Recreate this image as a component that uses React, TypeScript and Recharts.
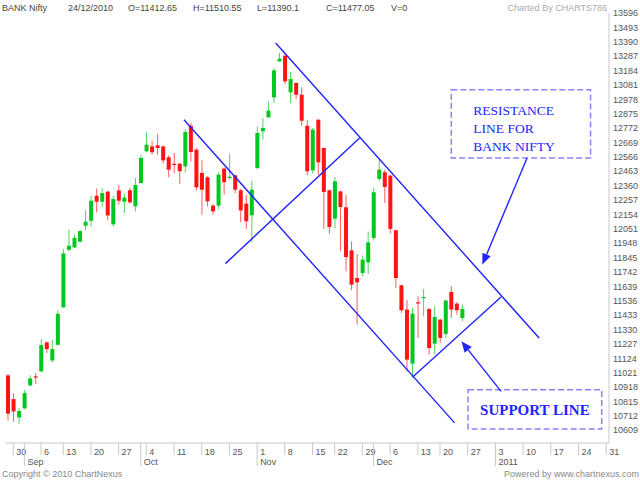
import React from 'react';
import { ComposedChart, Bar, XAxis, YAxis, ReferenceLine, ReferenceArea } from 'recharts';

// Trading days (NSE), Aug 27 – Dec 24 2010
const aug2010 = [27, 30, 31];
const sep2010 = [1, 2, 3, 6, 7, 8, 9, 13, 14, 15, 16, 17, 20, 21, 22, 23, 24, 27, 28, 29, 30];
const oct2010 = [1, 4, 5, 6, 7, 8, 11, 12, 13, 14, 15, 18, 19, 20, 21, 22, 25, 26, 27, 28, 29];
const nov2010 = [1, 2, 3, 4, 5, 8, 9, 10, 11, 12, 15, 16, 18, 19, 22, 23, 24, 25, 26, 29, 30];
const dec2010 = [1, 2, 3, 6, 7, 8, 9, 10, 13, 14, 15, 16, 20, 21, 22, 23, 24];
// Empty future sessions shown on the axis
const decFuture = [27, 28, 29, 30, 31];
const jan2011 = [3, 4, 5, 6, 7, 10, 11, 12, 13, 14, 17, 18, 19, 20, 21, 24, 25, 26, 27, 28, 31];

const opens = [11002, 10832, 10701, 10766, 10930, 10995, 11031, 11238, 11109, 11221,
  11489, 11901, 11918, 11959, 12073, 12109, 12288, 12245, 12317, 12083,
  12326, 12245, 12327, 12212, 12379, 12606, 12641, 12649, 12641, 12563,
  12517, 12517, 12498, 12789, 12618, 12451, 12420, 12217, 12217, 12482,
  12418, 12434, 12327, 12231, 12148, 12486, 12749, 12849, 12992, 13250,
  13290, 13028, 13095, 13011, 12789, 12470, 12832, 12630, 12327, 12124,
  12319, 12205, 11897, 11699, 11735, 11811, 11986, 12408, 12456, 12432,
  12041, 11647, 11473, 11086, 11525, 11558, 11477, 11229, 11401, 11299,
  11599, 11516, 11412.65];
const highs = [11010, 10871, 10768, 10899, 11004, 11019, 11262, 11245, 11257, 11467,
  11906, 12045, 12009, 12040, 12183, 12288, 12338, 12343, 12324, 12288,
  12367, 12302, 12343, 12415, 12582, 12742, 12682, 12730, 12646, 12577,
  12594, 12522, 12766, 12808, 12630, 12541, 12427, 12229, 12455, 12491,
  12587, 12439, 12338, 12295, 12396, 12785, 12844, 12964, 13202, 13310,
  13305, 13174, 13100, 13064, 12832, 12773, 12836, 12634, 12331, 12422,
  12324, 12295, 11961, 11871, 11861, 12033, 12344, 12551, 12475, 12436,
  12045, 11651, 11540, 11485, 11568, 11621, 11485, 11497, 11406, 11544,
  11640, 11525, 11510.55];
const lows = [10680, 10670, 10656, 10760, 10923, 10940, 11025, 11162, 11097, 11215,
  11485, 11890, 11912, 11955, 12040, 12068, 12169, 12207, 12111, 12068,
  12224, 12164, 12231, 12176, 12374, 12599, 12582, 12582, 12517, 12420,
  12451, 12372, 12455, 12534, 12327, 12152, 12212, 12152, 12193, 12295,
  12403, 12307, 12097, 12050, 11954, 12480, 12689, 12845, 12952, 13245,
  13088, 12952, 12980, 12789, 12434, 12446, 12434, 12052, 12016, 12057,
  11895, 11747, 11611, 11365, 11711, 11728, 11969, 12391, 12236, 12017,
  11628, 11449, 11031, 10984, 11270, 11425, 11151, 11151, 11234, 11270,
  11413, 11437, 11390.1];
const closes = [10728, 10744, 10747, 10875, 10980, 10988, 11219, 11190, 11190, 11443,
  11875, 11930, 11985, 12035, 12102, 12252, 12245, 12307, 12147, 12264,
  12252, 12274, 12241, 12365, 12558, 12653, 12599, 12630, 12541, 12474,
  12510, 12463, 12744, 12601, 12348, 12331, 12248, 12176, 12439, 12384,
  12424, 12331, 12183, 12105, 12331, 12737, 12773, 12897, 13185, 13269,
  13107, 13123, 13011, 12825, 12463, 12761, 12527, 12315, 12064, 12391,
  12207, 11849, 11651, 11668, 11830, 11954, 12313, 12475, 12351, 12050,
  11699, 11468, 11115, 11444, 11518, 11563, 11198, 11420, 11270, 11537,
  11473, 11468, 11477.05];

const priceTicks = [13596, 13493, 13390, 13287, 13184, 13081, 12978, 12875, 12772, 12669,
  12566, 12463, 12360, 12257, 12154, 12051, 11948, 11845, 11742, 11639,
  11536, 11433, 11330, 11227, 11124, 11021, 10918, 10815, 10712, 10609];
const priceDomain = [10518, 13596];
const monthNames = ['Jan', 'Feb', 'Mar', 'Apr', 'May', 'Jun', 'Jul', 'Aug', 'Sep', 'Oct', 'Nov', 'Dec'];

// Trend lines in (session index, price)
const resistanceLine = [{ x: 48.4, y: 13381 }, { x: 95.5, y: 11270 }];
const channelLowLine = [{ x: 32.0, y: 12832 }, { x: 80.4, y: 10662 }];
const crossLine = [{ x: 39.4, y: 11802 }, { x: 63.4, y: 12701 }];
const supportLine = [{ x: 72.9, y: 10991 }, { x: 88.7, y: 11563 }];
const resistanceArrow = [{ x: 93.35, y: 12558 }, { x: 85.35, y: 11795 }];
const supportArrow = [{ x: 88.7, y: 10888 }, { x: 81.6, y: 11246 }];
const resistanceBox = { x1: 79.8, x2: 104.7, y1: 12558, y2: 13047 };
const supportBox = { x1: 82.8, x2: 106.7, y1: 10619, y2: 10900 };
const resistanceText = ['RESISTANCE', 'LINE FOR', 'BANK NIFTY'];
const supportText = ['SUPPORT LINE'];

const pad = (n: number) => String(n).padStart(2, '0');
const mk = (y: number, m: number, days: number[]) => days.map((d) => `${y}-${pad(m)}-${pad(d)}`);
const tradedDates = [
  ...mk(2010, 8, aug2010), ...mk(2010, 9, sep2010), ...mk(2010, 10, oct2010),
  ...mk(2010, 11, nov2010), ...mk(2010, 12, dec2010),
];
const futureDates = [...mk(2010, 12, decFuture), ...mk(2011, 1, jan2011)];
const allDates = tradedDates.concat(futureDates);

const data = allDates.map((date, i) =>
  i < opens.length
    ? { date, o: opens[i], h: highs[i], l: lows[i], c: closes[i], range: [lows[i], highs[i]] }
    : { date }
);

const mondaySet = new Set(allDates.filter((d) => new Date(d + 'T12:00:00').getDay() === 1));
const monthSet = new Set(allDates.filter((d, i) => i > 0 && d.slice(0, 7) !== allDates[i - 1].slice(0, 7)));
const axisTicks = allDates.filter((d) => mondaySet.has(d) || monthSet.has(d));

const BLUE = '#2323ff';
const GRID = '#c8c8c8';
const TXT = '#555';

const DateTick = (props: any) => {
  const { x, y, payload } = props;
  const d: string = payload.value;
  const isMon = mondaySet.has(d);
  const isMonth = monthSet.has(d);
  const m = parseInt(d.slice(5, 7), 10);
  const monthLabel = m === 1 ? d.slice(0, 4) : monthNames[m - 1];
  return (
    <g>
      <line x1={x} x2={x} y1={y} y2={y + (isMonth ? 23 : 12)} stroke={GRID} strokeWidth={1} />
      {isMon && (
        <text x={x + 3} y={y + 12} fontSize={9} fill={TXT}>{parseInt(d.slice(8), 10)}</text>
      )}
      {isMonth && (
        <text x={x + 3} y={y + 22} fontSize={9} fill={TXT}>{monthLabel}</text>
      )}
    </g>
  );
};

const Candle = (props: any) => {
  const { x, y, width, height, payload } = props;
  if (!payload || payload.o === undefined) return null;
  const { o, h, l, c } = payload;
  const top = Math.min(y, y + height);
  const bot = Math.max(y, y + height);
  const span = h - l;
  const k = span > 0 ? (bot - top) / span : 0;
  const py = (v: number) => top + (h - v) * k;
  const up = c >= o;
  const body = up ? '#00c81e' : '#ff1414';
  const wick = up ? '#4ed65e' : '#ff5c5c';
  const cx = x + width / 2;
  const bTop = py(Math.max(o, c));
  const bBot = py(Math.min(o, c));
  return (
    <g>
      <line x1={cx} x2={cx} y1={top} y2={bot} stroke={wick} strokeWidth={1} />
      <rect x={x} y={bTop} width={width} height={Math.max(1.2, bBot - bTop)} fill={body} />
    </g>
  );
};

const arrowShape = (p: any) => {
  const { x1, y1, x2, y2 } = p;
  const ang = Math.atan2(y2 - y1, x2 - x1);
  const len = 11;
  const half = 4.5;
  const bx = x2 - len * Math.cos(ang);
  const by = y2 - len * Math.sin(ang);
  const nx = -Math.sin(ang);
  const ny = Math.cos(ang);
  const pts = `${x2},${y2} ${bx + nx * half},${by + ny * half} ${bx - nx * half},${by - ny * half}`;
  return (
    <g>
      <line x1={x1} y1={y1} x2={bx} y2={by} stroke={BLUE} strokeWidth={1.4} />
      <polygon points={pts} fill={BLUE} />
    </g>
  );
};

const boxLabel = (lines: string[], mode: 'left' | 'center') => (props: any) => {
  const vb = props.viewBox || {};
  const { x, y, width, height } = vb;
  if (mode === 'left') {
    return (
      <g>
        {lines.map((t, i) => (
          <text key={t} x={x + 22} y={y + 25 + i * 18} fontSize={13.5}
            fontFamily='"Liberation Serif", "Times New Roman", serif' fill={BLUE}>{t}</text>
        ))}
      </g>
    );
  }
  return (
    <text x={x + width / 2} y={y + height / 2 + 5.5} textAnchor="middle" fontSize={15} fontWeight="bold"
      fontFamily='"Liberation Serif", "Times New Roman", serif' fill={BLUE}>{lines[0]}</text>
  );
};

const last = opens.length - 1;
const lastDate = tradedDates[last];
const headerDate = `${lastDate.slice(8)}/${lastDate.slice(5, 7)}/${lastDate.slice(0, 4)}`;

const headerItems: { text: string; left: number }[] = [
  { text: 'BANK Nifty', left: 2 },
  { text: headerDate, left: 68 },
  { text: `O=${opens[last]}`, left: 128 },
  { text: `H=${highs[last]}`, left: 193 },
  { text: `L=${lows[last]}`, left: 257 },
  { text: `C=${closes[last]}`, left: 326 },
  { text: 'V=0', left: 391 },
];

export default function App() {
  const font = '"Liberation Sans", Arial, sans-serif';
  return (
    <div style={{ position: 'absolute', left: 0, top: 0, width: 640, height: 480, background: '#fff', fontFamily: font }}>
      {headerItems.map((h) => (
        <div key={h.text} style={{ position: 'absolute', left: h.left, top: 2, fontSize: 9, lineHeight: '12px', color: '#444', whiteSpace: 'nowrap' }}>
          {h.text}
        </div>
      ))}
      <div style={{ position: 'absolute', right: 33, top: 2, fontSize: 9, lineHeight: '12px', color: '#aaa', whiteSpace: 'nowrap' }}>
        Charted By CHARTS786
      </div>
      <div style={{ position: 'absolute', left: 2, top: 468, fontSize: 9, lineHeight: '12px', color: '#888', whiteSpace: 'nowrap' }}>
        Copyright © 2010 ChartNexus
      </div>
      <div style={{ position: 'absolute', right: 1, top: 468, fontSize: 9, lineHeight: '12px', color: '#888', whiteSpace: 'nowrap' }}>
        Powered by www.chartnexus.com
      </div>
      <div style={{ position: 'absolute', left: 0, top: 0 }}>
        <ComposedChart width={640} height={480} data={data} margin={{ top: 13, right: 0, bottom: 0, left: 5 }}>
          <XAxis xAxisId="cat" dataKey="date" orientation="bottom" height={37} ticks={axisTicks} interval={0}
            tick={<DateTick />} tickLine={false} tickSize={0} tickMargin={0} axisLine={{ stroke: GRID }} />
          <XAxis xAxisId="num" type="number" orientation="top" height={0} domain={[-0.5, allDates.length - 0.5]}
            allowDataOverflow tick={false} tickLine={false} axisLine={{ stroke: GRID }} />
          <YAxis yAxisId="price" orientation="right" width={31} domain={priceDomain} ticks={priceTicks}
            allowDataOverflow interval={0} tickLine={false} tickSize={0} tickMargin={4}
            axisLine={{ stroke: GRID }} tick={{ fontSize: 9, fill: TXT, fontFamily: font }} />
          <YAxis yAxisId="left" orientation="left" width={0} tick={false} tickLine={false} axisLine={{ stroke: GRID }} />
          <Bar xAxisId="cat" yAxisId="price" dataKey="range" barSize={4} shape={<Candle />} isAnimationActive={false} />
          {[resistanceLine, channelLowLine, crossLine, supportLine].map((seg, i) => (
            <ReferenceLine key={'l' + i} xAxisId="num" yAxisId="price" segment={seg} stroke={BLUE} strokeWidth={1.4} ifOverflow="visible" />
          ))}
          {[resistanceArrow, supportArrow].map((seg, i) => (
            <ReferenceLine key={'a' + i} xAxisId="num" yAxisId="price" segment={seg} shape={arrowShape} ifOverflow="visible" />
          ))}
          <ReferenceArea xAxisId="num" yAxisId="price" {...resistanceBox} fill="none" stroke="#8585ff"
            strokeWidth={1.5} strokeDasharray="6 3" ifOverflow="visible" label={boxLabel(resistanceText, 'left')} />
          <ReferenceArea xAxisId="num" yAxisId="price" {...supportBox} fill="none" stroke="#8585ff"
            strokeWidth={1.5} strokeDasharray="6 3" ifOverflow="visible" label={boxLabel(supportText, 'center')} />
        </ComposedChart>
      </div>
    </div>
  );
}
